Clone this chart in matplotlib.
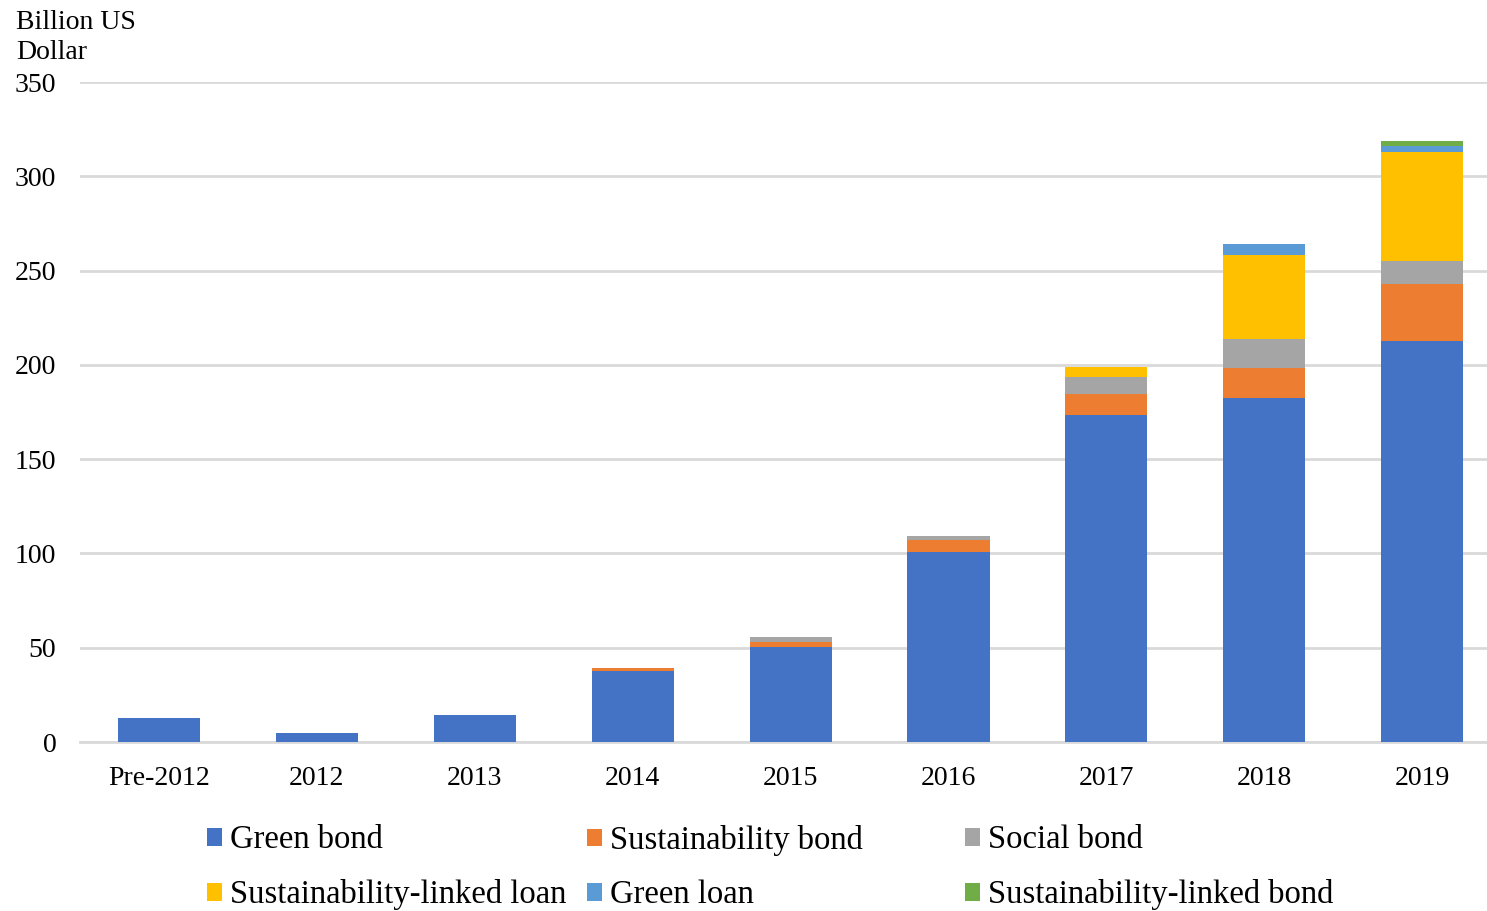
import matplotlib
matplotlib.use("Agg")
from matplotlib import pyplot as plt
from matplotlib.patches import Patch
import numpy as np

plt.rcParams['font.family'] = ['Liberation Serif', 'DejaVu Serif']

years = ["Pre-2012", "2012", "2013", "2014", "2015", "2016", "2017", "2018", "2019"]

green_bond = [12.7, 4.6, 14.3, 37.6, 50.5, 100.6, 173.2, 182.3, 212.6]
sustainability_bond = [0, 0, 0, 1.5, 2.7, 6.4, 11.5, 15.9, 30.1]
social_bond = [0, 0, 0, 0, 2.5, 2.4, 9.0, 15.5, 12.4]
sl_loan = [0, 0, 0, 0, 0, 0, 5.1, 44.6, 57.8]
green_loan = [0, 0, 0, 0, 0, 0, 0, 5.6, 3.2]
sl_bond = [0, 0, 0, 0, 0, 0, 0, 0, 2.6]

series = [
    ("Green bond", green_bond, "#4472C4"),
    ("Sustainability bond", sustainability_bond, "#ED7D31"),
    ("Social bond", social_bond, "#A5A5A5"),
    ("Sustainability-linked loan", sl_loan, "#FFC000"),
    ("Green loan", green_loan, "#5B9BD5"),
    ("Sustainability-linked bond", sl_bond, "#70AD47"),
]

fig = plt.figure(figsize=(14.87, 9.11), dpi=100)
ax = fig.add_axes([80 / 1487, 169 / 911, 1 - 80 / 1487, 660 / 911])

x = np.arange(len(years))
bottom = np.zeros(len(years))
for name, vals, col in series:
    vals = np.array(vals)
    ax.bar(x, vals, 0.52, bottom=bottom, color=col, label=name, zorder=3)
    bottom += vals

ax.set_ylim(0, 350)
ax.set_xlim(-0.5, 8.41)
ax.set_yticks(np.arange(0, 351, 50))
ax.set_xticks(x)
ax.set_xticklabels(years)
ax.yaxis.grid(True, color="#d9d9d9", linewidth=2, zorder=0)
for s in ["top", "right", "left"]:
    ax.spines[s].set_visible(False)
ax.spines["bottom"].set_color("#d9d9d9")
ax.spines["bottom"].set_linewidth(2)
ax.tick_params(axis="y", length=0, pad=17, labelsize=20)
ax.tick_params(axis="x", length=0, pad=17.5, labelsize=20)

fig.text(16 / 1487, 1 - 10 / 911, "Billion US\nDollar", ha="left", va="top",
         fontsize=20, linespacing=1.28)

# legend laid out in three fixed-width columns
cols = [(207, [0, 3]), (587, [1, 4]), (965, [2, 5])]
for px, idx in cols:
    handles = [Patch(facecolor=series[i][2]) for i in idx]
    labels = [series[i][0] for i in idx]
    leg = fig.legend(handles, labels, loc="upper left",
                     bbox_to_anchor=(px / 1487, 1 - 825 / 911),
                     frameon=False, fontsize=23.5, borderpad=0,
                     borderaxespad=0, handlelength=0.46, handleheight=0.46,
                     handletextpad=0.25, labelspacing=0.73)

fig.savefig("out.png", dpi=100)
